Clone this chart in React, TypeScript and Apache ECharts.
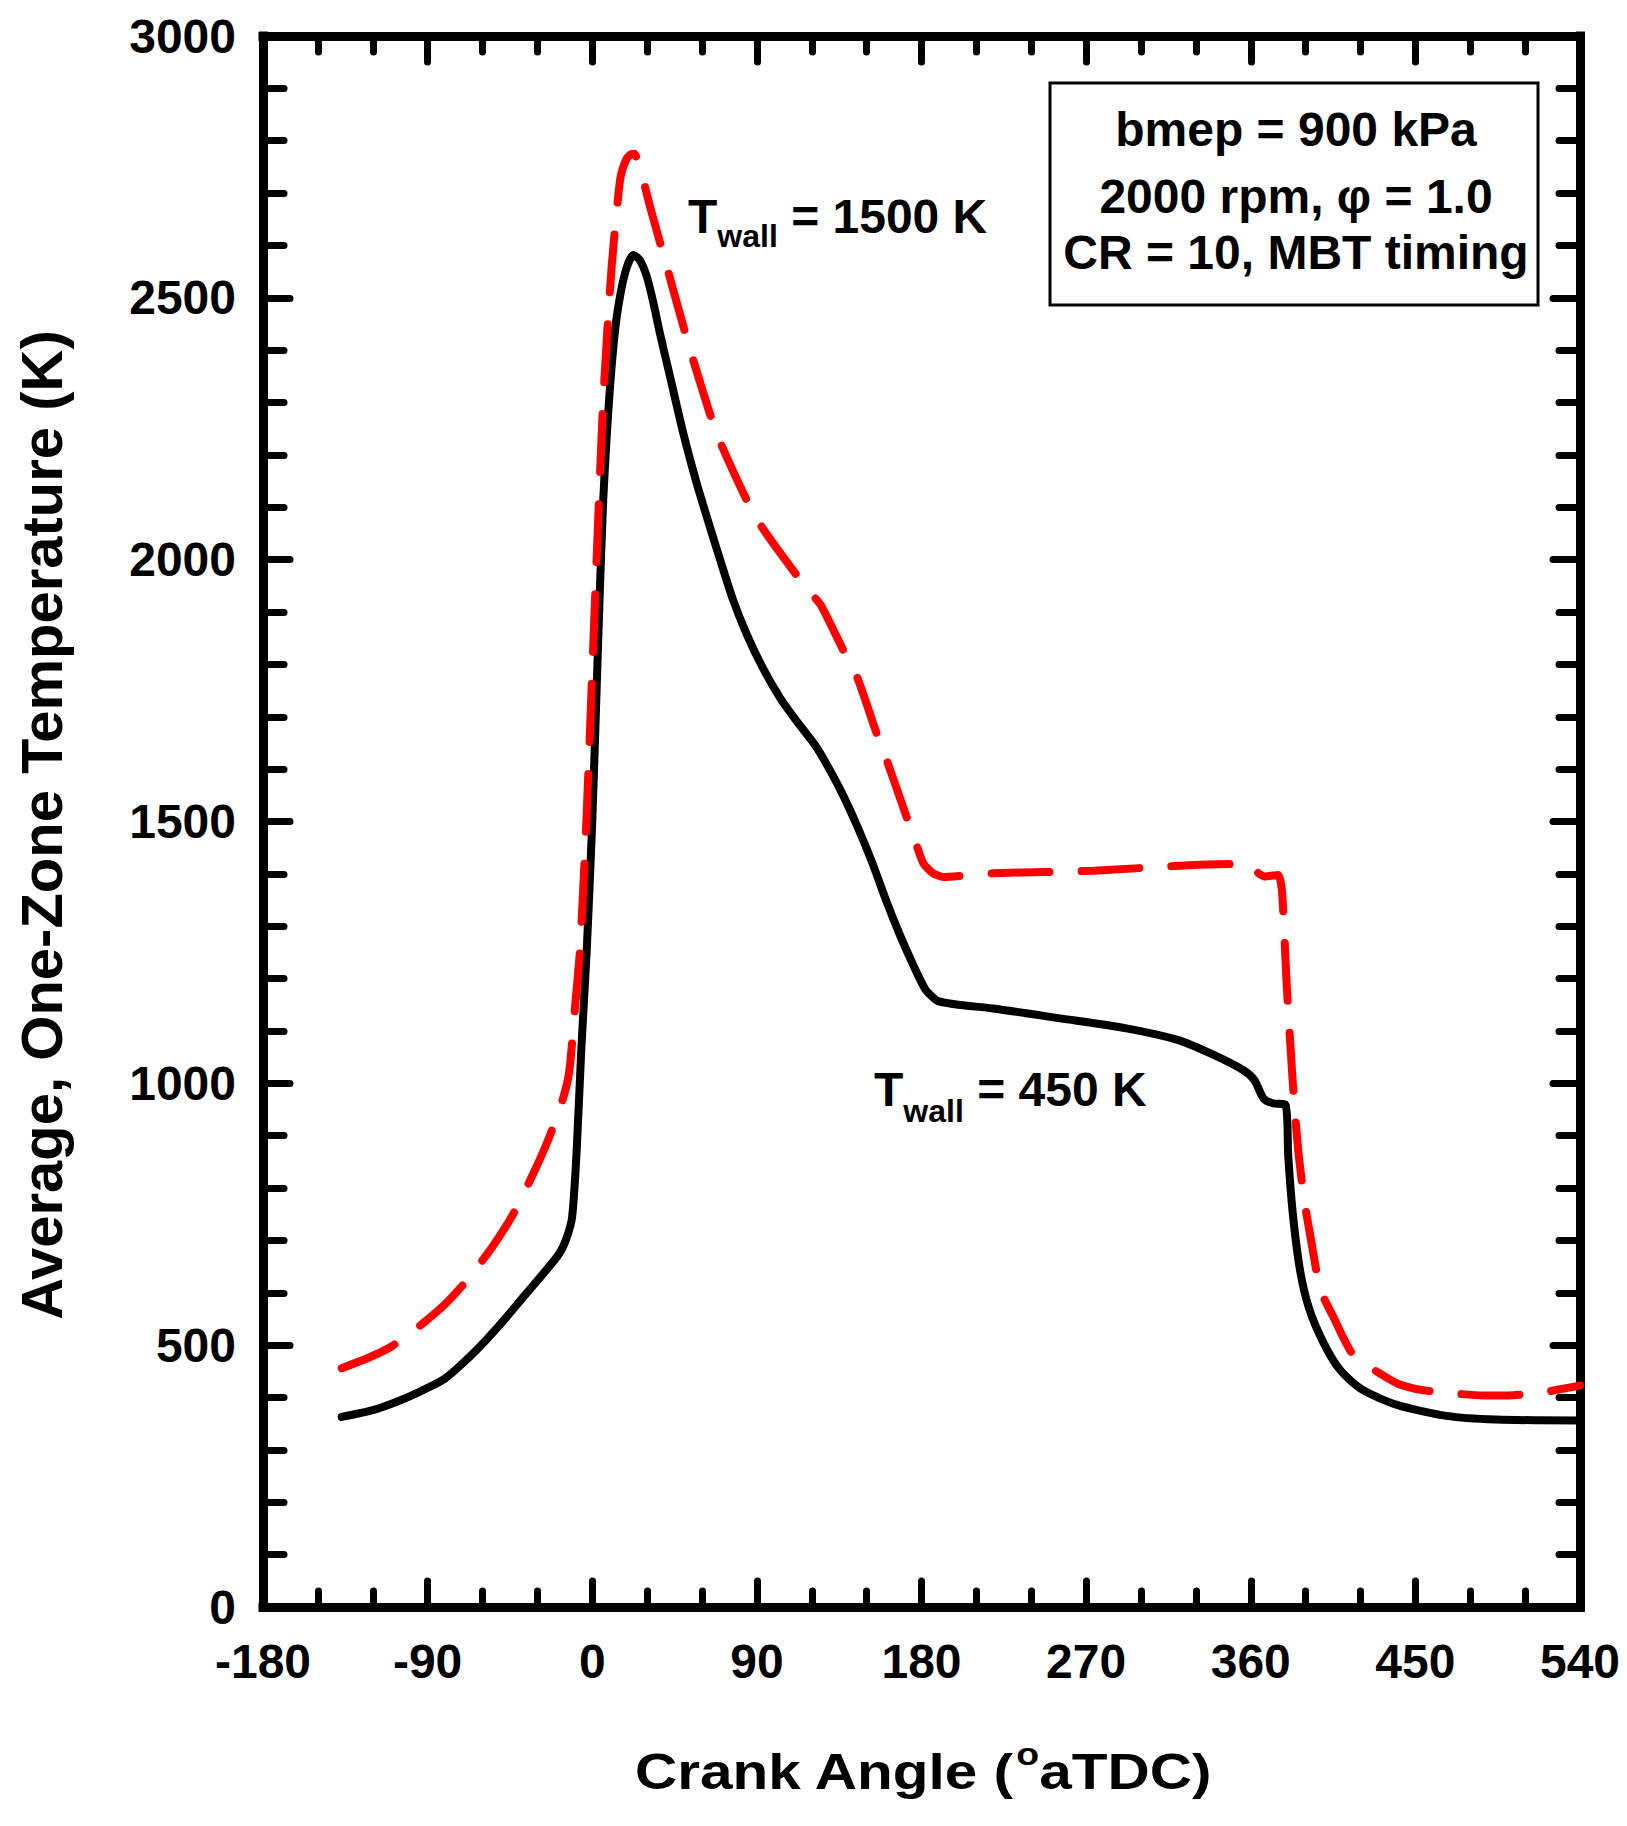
import React, { useEffect, useRef } from "react";
import * as echarts from "echarts";

// Crank angle (deg aTDC) and temperature (K) — T_wall = 450 K (solid black)
const angleWall450 = [-137, -120, -109, -95, -81, -70, -58, -47, -36, -26, -18, -14, -11, -8.5, -6, -3, 0, 2, 4, 6, 8, 10.6, 13.4, 17.9, 22.5, 26, 29.8, 33.4, 37, 42.5, 49.8, 57, 62.6, 69.8, 77, 84.4, 93, 103, 110, 117, 122, 128, 136, 145, 153, 161, 168, 176, 182, 186, 189, 200, 219, 256, 292, 320, 338, 356, 362, 367, 372, 379, 380.5, 383, 387, 392, 400, 409, 421, 440, 467, 494, 540];
const tempWall450 = [363, 376, 389, 410, 435, 468, 510, 553, 599, 640, 675, 705, 745, 873, 1064, 1255, 1500, 1710, 1925, 2114, 2241, 2369, 2464, 2547, 2582, 2572, 2541, 2491, 2432, 2350, 2241, 2147, 2082, 2001, 1923, 1858, 1795, 1734, 1700, 1668, 1645, 1610, 1558, 1490, 1422, 1346, 1285, 1222, 1180, 1165, 1157, 1150, 1143, 1124, 1105, 1083, 1057, 1025, 1006, 971, 962, 959, 861, 751, 642, 569, 503, 452, 415, 386, 365, 358, 356];

// T_wall = 1500 K (dashed red)
const angleWall1500 = [-137, -123, -110, -95, -80, -67, -54, -43, -33, -24, -16, -12.5, -9.4, -6.7, -3.2, 1.5, 6, 10.6, 15.2, 18, 20.6, 23, 26, 31.6, 40.7, 53.4, 68, 84.4, 92.6, 100, 117, 125, 139, 145, 155.5, 161, 172, 176.4, 181, 186, 192, 219, 274, 328.6, 356, 360.5, 364, 367.5, 375, 377, 378, 379.6, 381, 382.7, 384, 386, 388, 390, 393, 396, 400, 405, 410.6, 416, 425, 440.6, 452, 470, 487, 501, 520, 534, 540];
const tempWall1500 = [456, 475, 497, 535, 580, 630, 691, 752, 822, 893, 971, 1025, 1146, 1255, 1500, 1923, 2305, 2560, 2725, 2760, 2773, 2775, 2750, 2674, 2560, 2402, 2241, 2114, 2063, 2026, 1946, 1913, 1814, 1774, 1668, 1617, 1507, 1464, 1420, 1402, 1394, 1401, 1406, 1417, 1419, 1414, 1402, 1395, 1398, 1369, 1310, 1191, 1110, 1016, 950, 870, 810, 760, 700, 640, 590, 555, 514, 481, 458, 426, 415, 408, 404, 404, 410, 419, 423];

const X_MIN = -180;
const X_MAX = 540;
const X_STEP = 90;
const Y_MIN = 0;
const Y_MAX = 3000;
const Y_STEP = 500;

const boxLines = ["bmep = 900 kPa", "2000 rpm, \u03c6 = 1.0", "CR = 10, MBT timing"];
const xTitleParts = ["Crank Angle (", "o", "aTDC)"];
const yTitle = "Average, One-Zone Temperature (K)";
const label1500 = ["T", "wall", " = 1500 K"];
const label450 = ["T", "wall", " = 450 K"];

const FONT = "'Liberation Sans', Arial, Helvetica, sans-serif";

function makeXAxis(position: "bottom" | "top", showLabel: boolean) {
  return {
    type: "value",
    position,
    min: X_MIN,
    max: X_MAX,
    interval: X_STEP,
    axisLine: { show: true, onZero: false, lineStyle: { color: "#000", width: 9, cap: "square" } },
    axisTick: { show: true, inside: true, length: 26, lineStyle: { color: "#000", width: 7, cap: "round" } },
    minorTick: { show: true, splitNumber: 3, length: 16, lineStyle: { color: "#000", width: 7, cap: "round" } },
    axisLabel: {
      show: showLabel,
      margin: 30,
      fontSize: 48,
      fontWeight: "bold",
      fontFamily: FONT,
      color: "#000",
      formatter: (v: number) => String(v),
    },
    splitLine: { show: false },
    minorSplitLine: { show: false },
  };
}

function makeYAxis(position: "left" | "right", showLabel: boolean) {
  return {
    type: "value",
    position,
    min: Y_MIN,
    max: Y_MAX,
    interval: Y_STEP,
    axisLine: { show: true, onZero: false, lineStyle: { color: "#000", width: 9, cap: "square" } },
    axisTick: { show: true, inside: true, length: 27, lineStyle: { color: "#000", width: 7, cap: "round" } },
    minorTick: { show: true, splitNumber: 5, length: 21, lineStyle: { color: "#000", width: 7, cap: "round" } },
    axisLabel: {
      show: showLabel,
      margin: 27,
      fontSize: 48,
      fontWeight: "bold",
      fontFamily: FONT,
      color: "#000",
      formatter: (v: number) => String(v),
    },
    splitLine: { show: false },
    minorSplitLine: { show: false },
  };
}

function txt(text: string, x: number, y: number, fontSize: number, extra: any = {}) {
  return {
    type: "text",
    x,
    y,
    z: 10,
    ...extra,
    style: {
      text,
      fontSize,
      fontWeight: "bold",
      fontFamily: FONT,
      fill: "#000",
      align: extra.align || "left",
      verticalAlign: "middle",
    },
  };
}

export default function App() {
  const ref = useRef<HTMLDivElement>(null);

  useEffect(() => {
    if (!ref.current) return;
    const chart = echarts.init(ref.current, undefined, { renderer: "svg" });

    const blackData = angleWall450.map((a, i) => [a, tempWall450[i]]);
    const redData = angleWall1500.map((a, i) => [a, tempWall1500[i]]);

    const sx = 1.17;
    const fx = 50;
    const w1 = 6.501 * fx * sx;
    const w2 = 0.611 * 32 * sx;

    chart.setOption({
      animation: false,
      backgroundColor: "#fff",
      grid: { left: 263, right: 47, top: 36, bottom: 219, containLabel: false },
      xAxis: [makeXAxis("bottom", true), makeXAxis("top", false)],
      yAxis: [makeYAxis("left", true), makeYAxis("right", false)],
      series: [
        {
          type: "line",
          xAxisIndex: 0,
          yAxisIndex: 0,
          data: blackData,
          symbol: "none",
          showSymbol: false,
          smooth: 0.25,
          lineStyle: { color: "#000", width: 8, cap: "round", join: "round" },
          z: 3,
        },
        {
          type: "line",
          xAxisIndex: 0,
          yAxisIndex: 0,
          data: redData,
          symbol: "none",
          showSymbol: false,
          smooth: 0.2,
          lineStyle: { color: "#ff0000", width: 8, type: [58, 32], cap: "round", join: "round" },
          z: 4,
        },
      ],
      graphic: [
        {
          type: "rect",
          z: 9,
          shape: { x: 1050, y: 83, width: 488, height: 222 },
          style: { fill: "#fff", stroke: "#000", lineWidth: 3 },
        },
        txt(boxLines[0], 1296, 129, 48, { align: "center" }),
        txt(boxLines[1], 1296, 196, 48, { align: "center" }),
        txt(boxLines[2], 1296, 252, 48, { align: "center" }),
        // T_wall = 1500 K
        txt(label1500[0], 688, 216, 48),
        txt(label1500[1], 717.3, 236, 32),
        txt(label1500[2], 777.8, 216, 48),
        // T_wall = 450 K
        txt(label450[0], 874, 1089, 48),
        txt(label450[1], 903.3, 1111, 32),
        txt(label450[2], 963.8, 1089, 48),
        // x-axis title
        txt(xTitleParts[0], 635, 1772, fx, { scaleX: sx }),
        txt(xTitleParts[1], 635 + w1 + 1, 1754, 32, { scaleX: sx }),
        txt(xTitleParts[2], 635 + w1 + w2 + 1, 1772, fx, { scaleX: sx }),
        // y-axis title
        txt(yTitle, 41, 825, 58, { align: "center", rotation: Math.PI / 2 }),
      ],
    });

    return () => {
      chart.dispose();
    };
  }, []);

  return (
    <div
      ref={ref}
      style={{ position: "absolute", left: 0, top: 0, width: 1627, height: 1826, background: "#fff" }}
    />
  );
}
